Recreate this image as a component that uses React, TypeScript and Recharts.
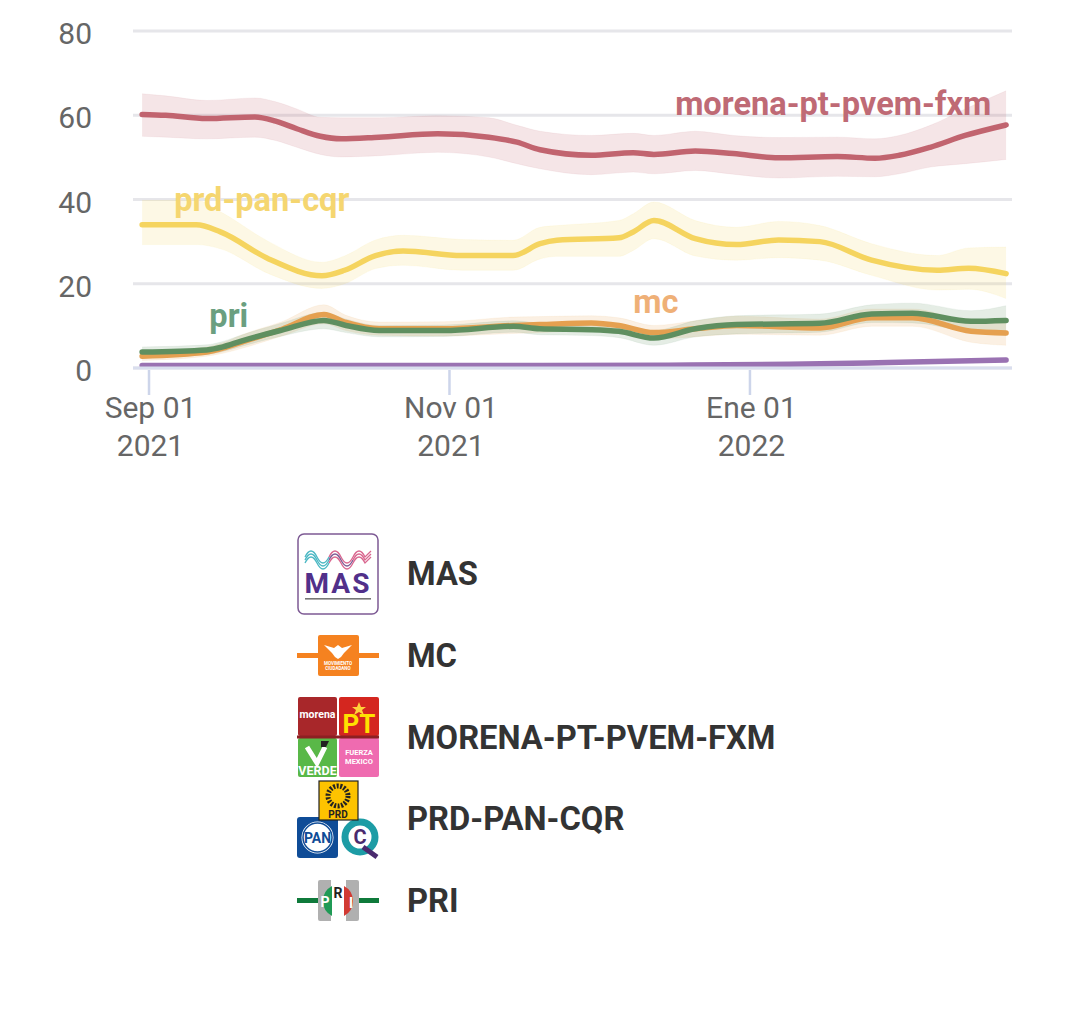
import React from "react";
import { ComposedChart, Area, Line, XAxis, YAxis, CartesianGrid, ReferenceDot } from "recharts";

// Days since 2021-09-01
const morenaDays = [-1.4, 3.4, 11.7, 21.5, 25.7, 30, 34.8, 39, 46.7, 58.6, 69, 74.7, 79.4, 89.8, 98.3, 102.5, 110.9, 118.6, 127.8, 139.7, 147.4, 152.3, 158.6, 165.7, 174];
const morenaMid = [60.2, 60, 59.2, 59.6, 58.6, 56.8, 55, 54.4, 54.8, 55.6, 54.8, 53.6, 51.8, 50.5, 51.1, 50.7, 51.5, 50.9, 49.9, 50.2, 49.8, 50.5, 52.4, 55.2, 57.7];
const morenaHigh = [65.1, 64.6, 63.5, 64.1, 63.2, 61.5, 59.5, 59.4, 59.4, 59.9, 59.4, 57.6, 56.2, 55.2, 55.7, 55.2, 56.2, 55.2, 54.7, 54.8, 54.4, 55.2, 57.6, 61.5, 65.8];
const morenaLow = [55, 54.8, 54.4, 54.8, 54, 52.4, 50.7, 50.1, 50.4, 51.2, 50.1, 48.5, 47.3, 45.9, 46.5, 46.1, 46.9, 46, 45.1, 45.5, 45.4, 46.1, 47.7, 48.5, 49.5];

const prdDays = [-1.4, 9.6, 14.5, 24.3, 35.1, 39.7, 46, 51.6, 63.5, 73.9, 79.4, 82.8, 95.4, 98.3, 102.5, 110.9, 119.3, 127.8, 136.2, 146.7, 160, 166.4, 174];
const prdMid = [34, 34, 32.3, 25.9, 21.9, 23.2, 26.7, 27.8, 26.7, 26.7, 29.5, 30.3, 30.9, 32.3, 35, 30.7, 29.3, 30.4, 30, 25.6, 23.2, 23.7, 22.4];
const prdHigh = [39.8, 39.8, 37.1, 30, 25.1, 26.6, 30.4, 31.5, 30.5, 30.3, 33.4, 33.8, 35, 36.6, 39.4, 35, 33.4, 34.8, 33.8, 29.5, 26.7, 28.5, 28.7];
const prdLow = [29.3, 29.3, 28.3, 22.4, 18.9, 20, 23.6, 24.4, 23.2, 23.2, 25.9, 26.5, 26.5, 27.9, 30.7, 26.6, 25.6, 26.2, 25.6, 22, 18.5, 18.7, 16.5];

const mcDays = [-1.4, 11.7, 15, 18.7, 27, 35.5, 40, 46.7, 60, 74, 79.3, 89.8, 95.4, 102.5, 110.9, 119.3, 136.2, 146.7, 155, 166.9, 174];
const mcMid = [2.8, 3.8, 4.7, 6.1, 9.2, 12.7, 10.8, 9.3, 9.3, 10.1, 10.3, 10.7, 10.1, 8.4, 9.3, 10.1, 9.5, 11.9, 11.9, 8.7, 8.3];
const mcHigh = [3.9, 5, 6, 7.8, 11, 15, 12.5, 10.9, 11, 12.1, 12.2, 12.4, 11.9, 10.1, 11.2, 12.3, 11.6, 14, 14, 11.2, 11.3];
const mcLow = [1.8, 2.8, 3.5, 4.6, 7.6, 10.5, 8.9, 7.8, 7.6, 8.2, 8.4, 8.9, 8.3, 6.9, 7.4, 8, 7.8, 9.9, 9.9, 6.1, 5.4];

const priDays = [-1.4, 11.7, 15, 18.7, 27, 35.5, 40, 46.7, 60, 74, 79.3, 89.8, 95.4, 102.5, 110.9, 119.3, 136.2, 146.7, 155, 166.9, 174];
const priMid = [3.8, 4.3, 5, 6.4, 9, 11.3, 10.1, 8.9, 8.9, 9.9, 9.3, 9.1, 8.7, 7.1, 9.3, 10.3, 10.6, 12.8, 13, 11.1, 11.3];
const priHigh = [5, 5.5, 6.3, 7.8, 10.7, 13.2, 11.6, 10.1, 10.2, 11.2, 10.7, 10.5, 10.2, 8.9, 11.2, 12.4, 12.8, 15, 15.4, 13.6, 14.8];
const priLow = [2.8, 3.2, 3.9, 5.1, 7.6, 9.3, 8.4, 7.4, 7.5, 8.5, 7.9, 7.7, 7.2, 5.4, 7.4, 8.1, 8.5, 10.8, 10.7, 8.5, 7.7];

const masDays = [-1.4, 40, 80, 110, 130, 150, 174];
const masMid = [0.6, 0.6, 0.6, 0.7, 0.9, 1.3, 1.9];
const masHigh = [0.8, 0.8, 0.8, 0.9, 1.2, 1.7, 2.4];
const masLow = [0.4, 0.4, 0.4, 0.5, 0.7, 1, 1.4];

const yTicks = [0, 20, 40, 60, 80];
const xTicks = [0, 61, 122];
const xTickMonths = ["Sep 01", "Nov 01", "Ene 01"];
const xTickYears = ["2021", "2021", "2022"];
const legendNames = ["MAS", "MC", "MORENA-PT-PVEM-FXM", "PRD-PAN-CQR", "PRI"];

const build = (days: number[], mid: number[], hi: number[], lo: number[]) =>
  days.map((day, i) => ({ day, v: mid[i], range: [lo[i], hi[i]] }));

const series = [
  { key: "mas", data: build(masDays, masMid, masHigh, masLow), color: "#9a72b2", band: 0.2 },
  { key: "morena", data: build(morenaDays, morenaMid, morenaHigh, morenaLow), color: "#c1646f", band: 0.17 },
  { key: "prd", data: build(prdDays, prdMid, prdHigh, prdLow), color: "#f5d45f", band: 0.16 },
  { key: "mc", data: build(mcDays, mcMid, mcHigh, mcLow), color: "#e5a050", band: 0.16 },
  { key: "pri", data: build(priDays, priMid, priHigh, priLow), color: "#5f8f60", band: 0.16 },
];

const seriesLabels = [
  { text: "morena-pt-pvem-fxm", day: 138.9, value: 62.9, color: "#bf6a75" },
  { text: "prd-pan-cqr", day: 22.9, value: 39.9, color: "#f5d670" },
  { text: "pri", day: 16.2, value: 12.5, color: "#6b9f80" },
  { text: "mc", day: 102.9, value: 15.8, color: "#efb077" },
];

const FONT = "Roboto, sans-serif";

const XTick = (props: any) => {
  const { x, y, payload } = props;
  const i = xTicks.indexOf(payload.value);
  return (
    <g>
      <line x1={x} x2={x} y1={y - 6} y2={y + 19} stroke="#cdd5ea" strokeWidth={2.5} />
      <text x={x + 1.5} y={y + 42} textAnchor="middle" fontSize={30} fontFamily={FONT} fill="#666666">
        {xTickMonths[i]}
      </text>
      <text x={x + 1.5} y={y + 80} textAnchor="middle" fontSize={30} fontFamily={FONT} fill="#666666">
        {xTickYears[i]}
      </text>
    </g>
  );
};

const YTick = (props: any) => {
  const { x, y, payload } = props;
  return (
    <text x={x} y={y + 13} textAnchor="end" fontSize={30} fontFamily={FONT} fill="#666666">
      {payload.value}
    </text>
  );
};

const logoText = { fontFamily: FONT, fontWeight: 700 } as const;

const Logo = ({ name }: { name: string }) => {
  let body: React.ReactNode = null;
  if (name === "MAS") {
    const waves = [0, 3, 6];
    body = (
      <>
        <rect x={1} y={1} width={80} height={80} rx={6} fill="#fff" stroke="#7d5a94" strokeWidth={1.5} />
        {waves.map((d) => (
          <g key={d}>
            <path d={`M8 ${24 + d} q6 -12 12 0 t12 0`} fill="none" stroke="#4bb8c4" strokeWidth={1.3} />
            <path d={`M32 ${24 + d} q6 -12 12 0 t12 0`} fill="none" stroke={d === 3 ? "#7d5a94" : "#d9668f"} strokeWidth={1.3} />
            <path d={`M56 ${24 + d} q6 -12 12 0 l6 -6`} fill="none" stroke="#d9668f" strokeWidth={1.3} />
          </g>
        ))}
        <text x={41} y={60} textAnchor="middle" fontSize={28} letterSpacing={2} fill="#51308a" {...logoText}>MAS</text>
        <rect x={8} y={65} width={66} height={1.6} fill="#777" />
      </>
    );
  } else if (name === "MC") {
    body = (
      <>
        <rect x={0} y={38} width={82} height={5} fill="#f58220" />
        <rect x={21} y={20} width={41} height={41} rx={2} fill="#f58220" />
        <path d="M27 30 L37 33 L41 30 L45 33 L55 30 L47 38 L44 42 L41 44 L38 42 L35 38 Z" fill="#fff" />
        <text x={41} y={50} textAnchor="middle" fontSize={4.5} fill="#fff" {...logoText}>MOVIMIENTO</text>
        <text x={41} y={55} textAnchor="middle" fontSize={4.5} fill="#fff" {...logoText}>CIUDADANO</text>
      </>
    );
  } else if (name === "MORENA-PT-PVEM-FXM") {
    body = (
      <>
        <rect x={1} y={0} width={39} height={39} rx={2} fill="#a8272a" />
        <text x={20.5} y={21} textAnchor="middle" fontSize={10.5} fill="#fff" {...logoText}>morena</text>
        <rect x={42} y={0} width={40} height={39} rx={2} fill="#d4261f" />
        <text x={62} y={36} textAnchor="middle" fontSize={26} fill="#ffe100" {...logoText}>PT</text>
        <path d="M62 5 l2 5 l5 0 l-4 3 l2 5 l-5 -3 l-5 3 l2 -5 l-4 -3 l5 0 Z" fill="#ffd23a" />
        <rect x={1} y={41} width={39} height={39} rx={2} fill="#59b848" />
        <text x={20.5} y={78} textAnchor="middle" fontSize={12.5} fill="#fff" {...logoText}>VERDE</text>
        <path d="M10 50 L20 66 L28 50" fill="none" stroke="#fff" strokeWidth={5} />
        <path d="M24 44 h8 l-3 6 h-5 Z" fill="#222" />
        <rect x={42} y={41} width={40} height={39} rx={2} fill="#ef6bb0" />
        <text x={62} y={58} textAnchor="middle" fontSize={7.5} fill="#fff" {...logoText}>FUERZA</text>
        <text x={62} y={67} textAnchor="middle" fontSize={7.5} fill="#fff" {...logoText}>MEXICO</text>
        <rect x={0} y={38.5} width={82} height={3} fill="#8d1f22" />
      </>
    );
  } else if (name === "PRD-PAN-CQR") {
    body = (
      <>
        <rect x={0} y={39} width={41} height={41} rx={3} fill="#0f4c97" />
        <circle cx={20.5} cy={59.5} r={17} fill="#fff" stroke="#0f4c97" strokeWidth={2} />
        <circle cx={20.5} cy={59.5} r={14.5} fill="none" stroke="#0f4c97" strokeWidth={1.5} />
        <text x={20.5} y={65} textAnchor="middle" fontSize={14} fill="#0f4c97" {...logoText}>PAN</text>
        <circle cx={63} cy={59} r={15} fill="none" stroke="#1d9ca5" strokeWidth={7} />
        <text x={63} y={66} textAnchor="middle" fontSize={20} fill="#4a2a6e" {...logoText}>C</text>
        <path d="M66 69 L80 79" stroke="#4a2a6e" strokeWidth={5} />
        <rect x={22} y={3} width={39} height={39} fill="#fdc300" stroke="#222" strokeWidth={1.2} />
        <circle cx={41} cy={18} r={10} fill="none" stroke="#222" strokeWidth={5} strokeDasharray="2 1.5" />
        <text x={41} y={39.5} textAnchor="middle" fontSize={10} fill="#222" {...logoText}>PRD</text>
      </>
    );
  } else {
    body = (
      <>
        <rect x={0} y={38} width={82} height={5} fill="#0f7a3b" />
        <rect x={21} y={20} width={41} height={41} rx={2} fill="#b0b0b0" />
        <rect x={34} y={20} width={15} height={41} fill="#fff" />
        <path d="M35 26 A17 17 0 0 0 35 56 Z" fill="#1f9a55" />
        <path d="M47 26 A17 17 0 0 1 47 56 Z" fill="#d23a33" />
        <text x={28} y={47} textAnchor="middle" fontSize={14} fill="#fff" {...logoText}>P</text>
        <text x={41} y={38} textAnchor="middle" fontSize={14} fill="#222" {...logoText}>R</text>
        <text x={54} y={48} textAnchor="middle" fontSize={14} fill="#fff" {...logoText}>I</text>
      </>
    );
  }
  return (
    <svg width={82} height={82} viewBox="0 0 82 82" style={{ overflow: "visible", display: "block", flex: "none" }}>
      {body}
    </svg>
  );
};

export default function App() {
  return (
    <div style={{ position: "absolute", left: 0, top: 0, width: 1080, height: 1017, background: "#fff" }}>
      <ComposedChart
        width={1080}
        height={480}
        margin={{ top: 31, right: 68, bottom: 0, left: 0 }}
        data={series[1].data}
      >
        <CartesianGrid vertical={false} stroke="#e6e6ea" strokeWidth={3} />
        <XAxis
          dataKey="day"
          type="number"
          domain={[-3.25, 175.2]}
          ticks={xTicks}
          interval={0}
          allowDataOverflow
          height={112}
          axisLine={{ stroke: "#d9deee", strokeWidth: 3 }}
          tickLine={false}
          tick={<XTick />}
        />
        <YAxis
          type="number"
          domain={[0, 80]}
          ticks={yTicks}
          width={133}
          axisLine={false}
          tickLine={false}
          tickMargin={35}
          tick={<YTick />}
        />
        {series.map((s) => (
          <Area
            key={s.key + "-band"}
            data={s.data}
            dataKey="range"
            type="monotone"
            fill={s.color}
            fillOpacity={s.band}
            stroke={s.color}
            strokeOpacity={0.08}
            isAnimationActive={false}
            dot={false}
            activeDot={false}
            legendType="none"
          />
        ))}
        {series.map((s) => (
          <Line
            key={s.key + "-line"}
            data={s.data}
            dataKey="v"
            type="monotone"
            stroke={s.color}
            strokeWidth={5.5}
            strokeLinecap="round"
            dot={false}
            activeDot={false}
            isAnimationActive={false}
          />
        ))}
        {seriesLabels.map((l) => (
          <ReferenceDot
            key={l.text}
            x={l.day}
            y={l.value}
            r={0}
            fill="none"
            stroke="none"
            ifOverflow="visible"
            label={{
              value: l.text,
              position: "center",
              fill: l.color,
              fontSize: 32.6,
              fontWeight: 700,
              fontFamily: FONT,
            }}
          />
        ))}
      </ComposedChart>
      {legendNames.map((name, i) => (
        <div
          key={name}
          style={{
            position: "absolute",
            left: 297,
            top: 533 + i * 81.8,
            height: 82,
            display: "flex",
            alignItems: "center",
            gap: 28,
          }}
        >
          <Logo name={name} />
          <span style={{ fontFamily: FONT, fontWeight: 700, fontSize: 32.7, color: "#333333", whiteSpace: "nowrap" }}>
            {name}
          </span>
        </div>
      ))}
    </div>
  );
}
